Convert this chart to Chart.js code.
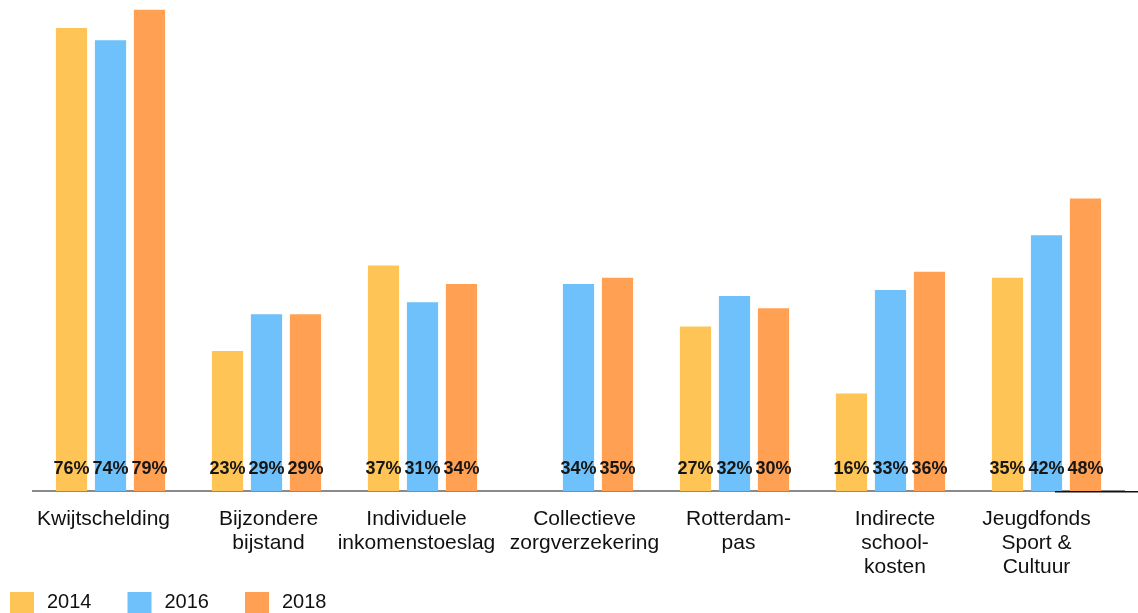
<!DOCTYPE html>
<html>
<head>
<meta charset="utf-8">
<script src="https://cdn.jsdelivr.net/npm/chart.js@4/dist/chart.umd.min.js"></script>
<style>
  html, body { margin: 0; padding: 0; background: #ffffff; overflow: hidden; }
  #wrap { width: 1138px; height: 613px; position: relative; }
</style>
</head>
<body>
<div id="wrap"><canvas id="c" width="1138" height="613"></canvas></div>
<script>
const categories = [
  "Kwijtschelding",
  ["Bijzondere", "bijstand"],
  ["Individuele", "inkomenstoeslag"],
  ["Collectieve", "zorgverzekering"],
  ["Rotterdam-", "pas"],
  ["Indirecte", "school-", "kosten"],
  ["Jeugdfonds", "Sport &", "Cultuur"]
];
const seriesNames = ["2014", "2016", "2018"];
const values2014 = [76, 23, 37, null, 27, 16, 35];
const values2016 = [74, 29, 31, 34, 32, 33, 42];
const values2018 = [79, 29, 34, 35, 30, 36, 48];
const colors = ["#FFC456", "#6EC1FB", "#FFA052"];

const FONT = "Arial, 'Liberation Sans', sans-serif";
// style: small horizontal nudges of the category text boxes (as placed in the original)
const LABEL_NUDGE = [-7, 2, -6, 6, 4, 4.5, -10];

const valueLabels = {
  id: 'valueLabels',
  afterDatasetsDraw(chart) {
    const ctx = chart.ctx;
    const y0 = chart.scales.y.getPixelForValue(0);
    ctx.save();
    ctx.font = "bold 18px " + FONT;
    ctx.fillStyle = "#161616";
    ctx.textAlign = "center";
    ctx.textBaseline = "middle";
    chart.data.datasets.forEach((ds, di) => {
      const meta = chart.getDatasetMeta(di);
      meta.data.forEach((el, i) => {
        const v = ds.data[i];
        if (v === null || v === undefined) return;
        ctx.fillText(v + "%", el.x, y0 - 21.5);
      });
    });
    ctx.restore();
  }
};

const categoryLabels = {
  id: 'categoryLabels',
  afterDraw(chart) {
    const ctx = chart.ctx;
    const xs = chart.scales.x;
    const y0 = chart.scales.y.getPixelForValue(0);
    ctx.save();
    ctx.font = "21px " + FONT;
    ctx.fillStyle = "#111111";
    ctx.textAlign = "center";
    ctx.textBaseline = "middle";
    chart.data.labels.forEach((lab, i) => {
      const lines = Array.isArray(lab) ? lab : [lab];
      const x = xs.getPixelForValue(i) + (LABEL_NUDGE[i] || 0);
      lines.forEach((t, k) => {
        ctx.fillText(t, x, y0 + 28 + k * 24);
      });
    });
    ctx.restore();
  }
};

const extraAxis = {
  id: 'extraAxis',
  afterDraw(chart) {
    const ctx = chart.ctx;
    const y0 = chart.scales.y.getPixelForValue(0);
    ctx.save();
    ctx.strokeStyle = "#111111";
    ctx.lineWidth = 1.5;
    ctx.beginPath();
    ctx.moveTo(1055, y0 + 0.75);
    ctx.lineTo(1138, y0 + 0.75);
    ctx.stroke();
    ctx.restore();
  }
};

const customLegend = {
  id: 'customLegend',
  afterDraw(chart) {
    const ctx = chart.ctx;
    ctx.save();
    ctx.font = "20px " + FONT;
    ctx.textBaseline = "middle";
    ctx.textAlign = "left";
    chart.data.datasets.forEach((ds, i) => {
      const x = 10 + i * 117.5;
      ctx.fillStyle = ds.backgroundColor;
      ctx.fillRect(x, 592, 24, 24);
      ctx.fillStyle = "#111111";
      ctx.fillText(ds.label, x + 37, 602);
    });
    ctx.restore();
  }
};

new Chart(document.getElementById('c'), {
  type: 'bar',
  data: {
    labels: categories,
    datasets: [
      { label: seriesNames[0], data: values2014, backgroundColor: colors[0] },
      { label: seriesNames[1], data: values2016, backgroundColor: colors[1] },
      { label: seriesNames[2], data: values2018, backgroundColor: colors[2] }
    ]
  },
  options: {
    responsive: false,
    animation: false,
    devicePixelRatio: 1,
    categoryPercentage: 0.75,
    barPercentage: 0.8,
    layout: { padding: { left: 32.5, right: 13.5, top: 0, bottom: 22 } },
    plugins: {
      legend: { display: false },
      tooltip: { enabled: false }
    },
    scales: {
      x: {
        grid: { display: false, drawTicks: false },
        border: { display: true, color: "#8a8a8a", width: 2 },
        ticks: { display: false },
        afterFit(scale) { scale.height = 100; }
      },
      y: {
        display: false,
        min: 0,
        max: 80.6
      }
    }
  },
  plugins: [valueLabels, categoryLabels, extraAxis, customLegend]
});
</script>
</body>
</html>
